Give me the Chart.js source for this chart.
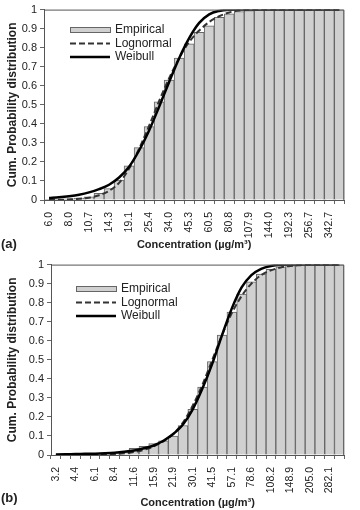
<!DOCTYPE html>
<html>
<head>
<meta charset="utf-8">
<script src="https://cdn.jsdelivr.net/npm/chart.js@4"></script>
<style>
  body { margin: 0; background: #fff; width: 360px; height: 510px; overflow: hidden; }
  canvas { display: block; }
</style>
</head>
<body>
<canvas id="chartA" width="360" height="255"></canvas>
<canvas id="chartB" width="360" height="255"></canvas>
<script>
// panel (a) - bins, labels shown every other bin
const catsA = ['6.0', '6.9', '8.0', '9.2', '10.7', '12.4', '14.3', '16.5', '19.1', '22.0',
    '25.4', '29.4', '34.0', '39.2', '45.3', '52.4', '60.5', '69.9', '80.8', '93.4',
    '107.9', '124.6', '144.0', '166.4', '192.3', '222.2', '256.7', '296.6', '342.7', '396.0'];
const empiricalA = [0.001, 0.003, 0.006, 0.01, 0.017, 0.035, 0.06, 0.105, 0.18, 0.275,
    0.385, 0.515, 0.63, 0.745, 0.82, 0.88, 0.915, 0.96, 0.978, 0.99,
    0.995, 0.998, 1, 1, 1, 1, 1, 1, 1, 1];
const lognormalA = [0.0005, 0.001, 0.003, 0.006, 0.012, 0.025, 0.048, 0.09, 0.165, 0.27,
    0.39, 0.52, 0.64, 0.745, 0.83, 0.89, 0.935, 0.965, 0.985, 0.995,
    0.999, 1, 1, 1, 1, 1, 1, 1, 1, 1];
const weibullA = [0.01, 0.014, 0.02, 0.028, 0.04, 0.057, 0.08, 0.118, 0.175, 0.26,
    0.365, 0.49, 0.62, 0.745, 0.85, 0.93, 0.975, 0.993, 0.999, 1,
    1, 1, 1, 1, 1, 1, 1, 1, 1, 1];

// panel (b)
const catsB = ['3.2', '3.8', '4.4', '5.2', '6.1', '7.2', '8.4', '9.9', '11.6', '13.6',
    '15.9', '18.7', '21.9', '25.7', '30.1', '35.3', '41.5', '48.7', '57.1', '67.0',
    '78.6', '92.2', '108.2', '126.9', '148.9', '174.7', '205.0', '240.5', '282.1', '331.0'];
const empiricalB = [0, 0.001, 0.002, 0.003, 0.005, 0.008, 0.012, 0.02, 0.035, 0.045,
    0.06, 0.075, 0.1, 0.155, 0.24, 0.357, 0.49, 0.63, 0.75, 0.845,
    0.91, 0.95, 0.975, 0.988, 0.995, 0.998, 1, 1, 1, 1];
const lognormalB = [0, 0, 0.001, 0.001, 0.002, 0.003, 0.005, 0.009, 0.016, 0.027,
    0.045, 0.072, 0.11, 0.17, 0.26, 0.37, 0.5, 0.63, 0.745, 0.835,
    0.9, 0.945, 0.97, 0.985, 0.993, 0.997, 1, 1, 1, 1];
const weibullB = [0.003, 0.004, 0.005, 0.006, 0.007, 0.009, 0.012, 0.017, 0.024, 0.035,
    0.05, 0.075, 0.11, 0.16, 0.24, 0.35, 0.48, 0.63, 0.77, 0.88,
    0.945, 0.978, 0.993, 0.999, 1, 1, 1, 1, 1, 1];

const FONT = "'Liberation Sans', Arial, sans-serif";
Chart.defaults.font.family = FONT;
Chart.defaults.color = '#222';

// plot frame, legend box and panel tag
const framePlugin = {
    id: 'frame',
    afterDatasetsDraw(chart, args, opts) {
        const ctx = chart.ctx;
        const a = chart.chartArea;
        ctx.save();
        ctx.strokeStyle = '#555';
        ctx.lineWidth = 1;
        ctx.beginPath();
        ctx.moveTo(a.left, a.top + 0.5);
        ctx.lineTo(a.right - 0.5, a.top + 0.5);
        ctx.lineTo(a.right - 0.5, a.bottom);
        ctx.stroke();

        const x = opts.lx, y = opts.ly, step = 13.5;
        ctx.fillStyle = '#d0d0d0';
        ctx.fillRect(x, y - 2, 40, 4);
        ctx.strokeStyle = '#666';
        ctx.strokeRect(x + 0.5, y - 2.5, 40, 5);

        ctx.strokeStyle = '#333';
        ctx.lineWidth = 2;
        ctx.setLineDash([6, 3]);
        ctx.beginPath();
        ctx.moveTo(x, y + step);
        ctx.lineTo(x + 40, y + step);
        ctx.stroke();

        ctx.setLineDash([]);
        ctx.strokeStyle = '#000';
        ctx.lineWidth = 2.5;
        ctx.beginPath();
        ctx.moveTo(x, y + step * 2);
        ctx.lineTo(x + 40, y + step * 2);
        ctx.stroke();

        ctx.fillStyle = '#222';
        ctx.font = '12px ' + FONT;
        ctx.textBaseline = 'middle';
        ctx.fillText('Empirical', x + 45, y);
        ctx.fillText('Lognormal', x + 45, y + step);
        ctx.fillText('Weibull', x + 45, y + step * 2);

        ctx.font = 'bold 13px ' + FONT;
        ctx.fillText(opts.tag, 1, opts.tagY);
        ctx.restore();
    }
};

function makeChart(id, cats, emp, logn, weib, cfg) {
    const ctx = document.getElementById(id).getContext('2d');
    return new Chart(ctx, {
        type: 'bar',
        data: {
            labels: cats,
            datasets: [
                {
                    type: 'line',
                    label: 'Weibull',
                    data: weib,
                    borderColor: '#000',
                    borderWidth: 2.5,
                    pointRadius: 0,
                    cubicInterpolationMode: 'monotone',
                    order: 1,
                },
                {
                    type: 'line',
                    label: 'Lognormal',
                    data: logn,
                    borderColor: '#333',
                    borderWidth: 2,
                    borderDash: [6, 3],
                    pointRadius: 0,
                    cubicInterpolationMode: 'monotone',
                    order: 2,
                },
                {
                    label: 'Empirical',
                    data: emp,
                    backgroundColor: '#d0d0d0',
                    borderColor: '#666',
                    borderWidth: 1,
                    barPercentage: 1,
                    categoryPercentage: 1,
                    order: 3,
                },
            ],
        },
        options: {
            responsive: false,
            animation: false,
            layout: { padding: cfg.padding },
            plugins: {
                legend: { display: false },
                tooltip: { enabled: false },
                frame: { lx: cfg.lx, ly: cfg.ly, tag: cfg.tag, tagY: cfg.tagY },
            },
            scales: {
                x: {
                    grid: { drawOnChartArea: false, tickLength: 4, color: '#666', offset: true },
                    border: { color: '#555' },
                    ticks: {
                        autoSkip: false,
                        maxRotation: 90,
                        minRotation: 90,
                        padding: 8,
                        font: { size: 10.5 },
                        callback: (v, i) => (i % 2 === 0 ? cats[i] : ''),
                    },
                    title: {
                        display: true,
                        text: 'Concentration (µg/m³)',
                        font: { size: 11, weight: 'bold' },
                        padding: { top: 0, bottom: cfg.xTitlePad },
                    },
                    afterFit: s => { s.height = cfg.xHeight; },
                },
                y: {
                    min: 0,
                    max: 1,
                    grid: { drawOnChartArea: false, tickLength: 4, color: '#666' },
                    border: { color: '#555' },
                    ticks: {
                        stepSize: 0.1,
                        padding: 3,
                        font: { size: 11 },
                        callback: v => String(Math.round(v * 10) / 10),
                    },
                    title: {
                        display: true,
                        text: 'Cum. Probability distribution',
                        font: { size: 12, weight: 'bold' },
                        padding: { top: 5, bottom: 0 },
                    },
                    afterFit: s => { s.width = cfg.yWidth; },
                },
            },
        },
        plugins: [framePlugin],
    });
}

makeChart('chartA', catsA, empiricalA, lognormalA, weibullA, {
    padding: { left: 0, top: 5, right: 3, bottom: 0 },
    yWidth: 44, xHeight: 55, xTitlePad: 3,
    lx: 70, ly: 30, tag: '(a)', tagY: 244,
});
makeChart('chartB', catsB, empiricalB, lognormalB, weibullB, {
    padding: { left: 0, top: 7, right: 2, bottom: 0 },
    yWidth: 51, xHeight: 55, xTitlePad: 0,
    lx: 76, ly: 289 - 255, tag: '(b)', tagY: 498 - 255,
});
</script>
</body>
</html>
